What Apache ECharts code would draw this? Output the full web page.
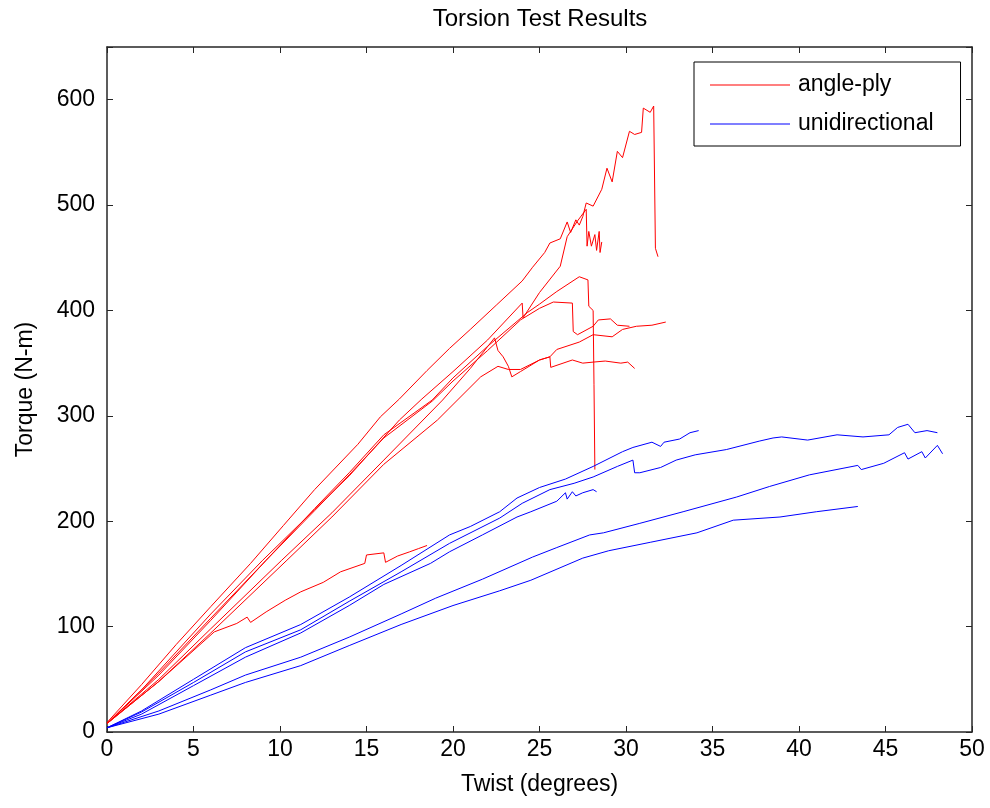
<!DOCTYPE html>
<html>
<head>
<meta charset="utf-8">
<title>Torsion Test Results</title>
<script src="https://cdn.jsdelivr.net/npm/echarts@6/dist/echarts.min.js"></script>
<style>
  html, body { margin: 0; padding: 0; background: #fff; }
  #chart { width: 990px; height: 808px; }
</style>
</head>
<body>
<div id="chart"></div>
<script>
// axis ticks
var xTicks = [0, 5, 10, 15, 20, 25, 30, 35, 40, 45, 50]
var yTicks = [0, 100, 200, 300, 400, 500, 600]

// angle-ply specimens  [twist deg, torque N-m]
var anglePly1 = [[0,9],[2,45],[4,83],[6,119],[8.3,160],[10.2,196],[12,230],[14.5,273],[15.8,299],[16.9,316],[18.5,343],[19.8,364],[21,382],[22.5,405],[24,428],[24.6,441],[25.3,455],[25.6,464],[26.2,468],[26.6,484],[26.8,474],[27.1,486],[27.3,481],[27.5,489],[27.7,502],[28.1,499],[28.6,515],[28.9,535],[29.2,522],[29.5,551],[29.8,545],[30.2,570],[30.5,567],[30.9,569],[31.0,592],[31.4,588],[31.6,594],[31.7,459],[31.85,451]]
var anglePly2 = [[0,8],[2,40],[4,76],[6,112],[9,163],[12,211],[14,243],[16.9,296],[18.2,316],[20,342],[22,372],[24,407],[24.05,393],[25,417],[26.2,442],[26.6,470],[27.2,485],[27.7,496],[27.75,461],[27.85,475],[28.0,461],[28.2,472],[28.3,457],[28.45,475],[28.5,455],[28.6,465]]
var anglePly3 = [[0,8],[3,56],[6,108],[9.2,163],[12,212],[14,246],[16,282],[18.8,315],[20,336],[22,366],[24.3,398],[25,406],[26,418],[27.3,432],[27.8,429],[27.85,404],[28.1,400],[28.15,330],[28.2,249]]
var anglePly4 = [[0,8],[3,54],[6,106],[9.2,163],[12,210],[14,244],[16,279],[18.8,314],[20,333],[22,362],[23.9,391],[25.0,402],[25.8,408],[26.9,407],[26.95,380],[27.2,377],[28.1,385],[28.4,391],[29.1,392],[29.5,386],[30.2,385]]
var anglePly5 = [[0,8],[3,50],[6,98],[10.1,163],[13,208],[16,258],[19.4,315],[21,345],[22.4,374],[22.6,362],[22.9,356],[23.2,347],[23.4,337],[23.9,342],[25.0,353],[25.6,356],[26,363],[27.3,370],[28.1,377],[29.2,375],[29.8,382],[30.6,385],[31.5,386],[32.3,389]]
var anglePly6 = [[0,8],[3,48],[6,94],[10.4,163],[13,204],[16,254],[19.1,296],[21.6,337],[22.6,347],[23.2,344],[23.9,344],[25,353],[25.6,356],[25.65,346],[26.9,353],[27.5,350],[28.1,351],[28.8,352],[29.7,350],[30.1,351],[30.5,345]]
var anglePly7 = [[0,8],[3,48],[6.2,95],[7.5,103],[8.1,109],[8.3,104],[9.2,114],[10.3,125],[11.2,133],[12.5,142],[13.5,152],[14.9,160],[15.0,168],[16,170],[16.1,161],[16.8,167],[17.5,171],[18.0,174],[18.5,177]]

// unidirectional specimens
var unidirectional1 = [[0,4],[2,20],[5,50],[8,80],[11.2,102],[14,128],[17,158],[19.8,187],[21,195],[22.7,209],[23.7,222],[25,232],[26.5,240],[28.1,252],[29.8,266],[30.4,270],[31.5,275],[32,271],[32.2,275],[33.1,278],[33.7,284],[34.2,286]]
var unidirectional2 = [[0,4],[2,19],[5,47],[8,76],[11.2,97],[14,124],[17,152],[19.8,179],[22.7,203],[24.0,217],[25.6,230],[27,236],[28.1,242],[29.5,252],[30.4,258],[30.5,246],[30.8,246],[32,251],[32.9,258],[34,263],[35.8,268],[37.7,276],[38.5,279],[39,280],[40.5,277],[42.2,282],[43.7,280],[45.2,282],[45.7,289],[46.3,292],[46.7,284],[47.4,286],[48.0,284]]
var unidirectional3 = [[0,4],[2,17],[5,44],[8,71],[11.2,94],[14,120],[16,140],[18.7,160],[19.8,171],[21.7,187],[23.7,204],[24.5,209],[26.0,219],[26.5,227],[26.6,221],[26.9,228],[27.1,224],[27.5,227],[28.1,230],[28.3,228]]
var unidirectional4 = [[0,4],[3,20],[6,40],[8,54],[11.2,71],[14,90],[17,112],[19,127],[21.7,145],[24.6,166],[26,175],[27.9,187],[28.7,189],[30.8,198],[33.3,209],[36.4,223],[38.3,233],[40.6,244],[43.4,253],[43.6,249],[44.9,255],[46.1,265],[46.3,259],[47.1,266],[47.3,260],[48.0,272],[48.3,264]]
var unidirectional5 = [[0,4],[3,17],[6,35],[8,47],[11.2,63],[14,82],[17,102],[20,120],[22.7,134],[24.5,144],[27.5,165],[29,172],[31.4,180],[34.1,189],[36.2,201],[38.9,204],[41,209],[43.4,214]]

var redSets = [anglePly1, anglePly2, anglePly3, anglePly4, anglePly5, anglePly6, anglePly7]
var blueSets = [unidirectional1, unidirectional2, unidirectional3, unidirectional4, unidirectional5]

var font = 'Liberation Sans, Arial, Helvetica, sans-serif'

function makeSeries(name, color, sets) {
    return sets.map(function (d) {
        return {
            name: name,
            type: 'line',
            data: d,
            symbol: 'none',
            silent: true,
            lineStyle: { color: color, width: 1 },
            itemStyle: { color: color }
        }
    })
}

var series = makeSeries('angle-ply', '#ff0000', redSets).concat(makeSeries('unidirectional', '#0000ff', blueSets))

var frame = { show: true, onZero: false, lineStyle: { color: '#262626', width: 1.5 } }
var ticks = { show: true, inside: true, length: 6, lineStyle: { color: '#262626', width: 1 } }

var chart = echarts.init(document.getElementById('chart'), null, { renderer: 'canvas' })
chart.setOption({
    animation: false,
    backgroundColor: '#fff',
    graphic: [{
        type: 'text', x: 540, y: 19,
        style: { text: 'Torsion Test Results', font: '24px ' + font, fill: '#000', textAlign: 'center', textVerticalAlign: 'middle' }
    }],
    legend: {
        data: ['angle-ply', 'unidirectional'],
        orient: 'vertical',
        left: 694, top: 62,
        padding: [10, 27, 9, 16],
        icon: 'rect',
        itemWidth: 80, itemHeight: 1, itemGap: 13,
        borderColor: '#000', borderWidth: 1, borderRadius: 0,
        backgroundColor: '#fff',
        textStyle: { fontFamily: font, fontSize: 23, color: '#000', lineHeight: 26, padding: [0, 0, 0, 3] }
    },
    grid: { left: 107, right: 18, top: 47, bottom: 76 },
    xAxis: [{
        type: 'value', min: 0, max: 50, interval: 5,
        name: 'Twist (degrees)', nameLocation: 'middle', nameGap: 41,
        nameTextStyle: { fontFamily: font, fontSize: 23, color: '#000' },
        axisLine: frame, axisTick: ticks, splitLine: { show: false },
        axisLabel: { fontFamily: font, fontSize: 23, color: '#000', margin: 6,
            formatter: function (v) { return xTicks.indexOf(v) >= 0 ? String(v) : '' } }
    }, {
        type: 'value', position: 'top', min: 0, max: 50, interval: 5,
        axisLine: frame, axisTick: ticks, axisLabel: { show: false }, splitLine: { show: false }
    }],
    yAxis: [{
        type: 'value', min: 0, max: 650, interval: 100,
        name: 'Torque (N-m)', nameLocation: 'middle', nameGap: 70,
        nameTextStyle: { fontFamily: font, fontSize: 23, color: '#000' },
        axisLine: frame, axisTick: ticks, splitLine: { show: false },
        axisLabel: { fontFamily: font, fontSize: 23, color: '#000', margin: 12,
            formatter: function (v) { return yTicks.indexOf(v) >= 0 ? String(v) : '' } }
    }, {
        type: 'value', position: 'right', min: 0, max: 650, interval: 100,
        axisLine: frame, axisTick: ticks, axisLabel: { show: false }, splitLine: { show: false }
    }],
    series: series
})
</script>
</body>
</html>
